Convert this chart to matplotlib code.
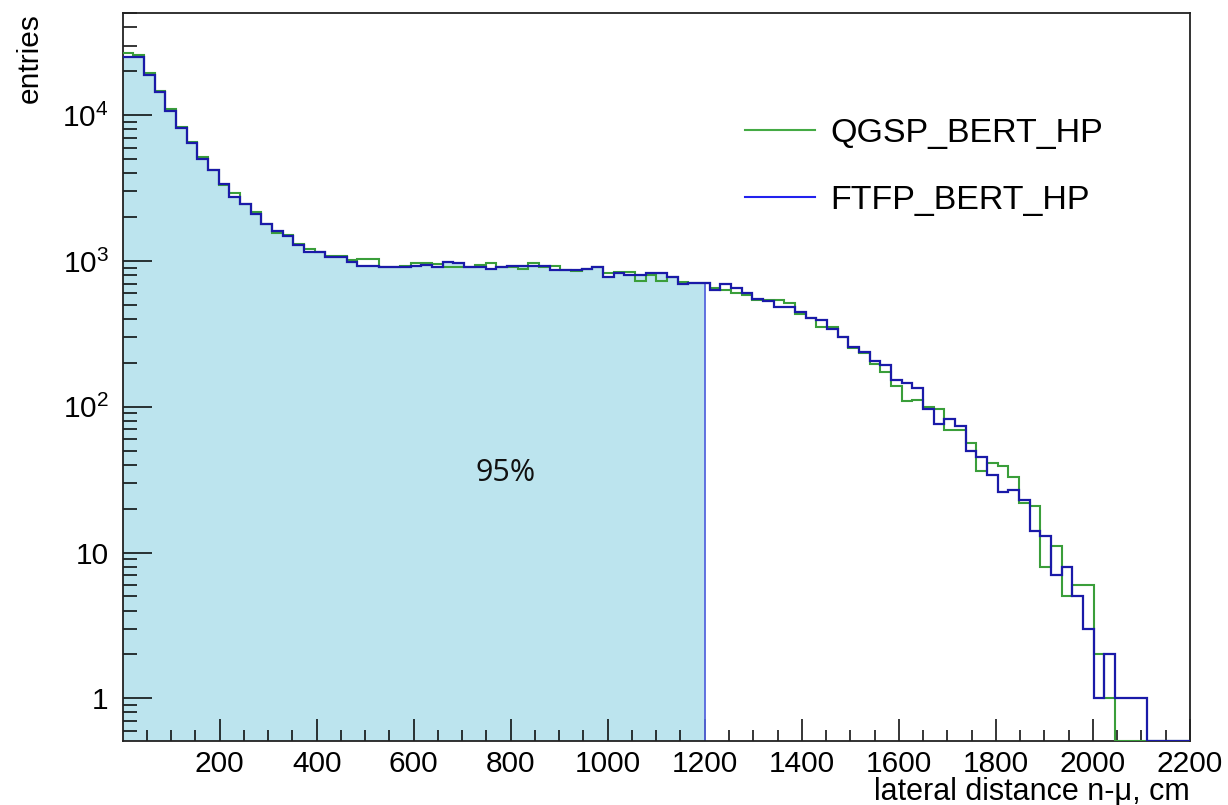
import numpy as np
import matplotlib
matplotlib.use("Agg")
import matplotlib.pyplot as plt
from matplotlib.ticker import FixedLocator, FixedFormatter, LogLocator, NullFormatter

# ---------------- data ----------------
bin_width = 22.0
n_bins = 100
x_min, x_max = 0.0, 2200.0
cut_value = 1200.0
label_95 = "95%"
label_95_pos = (790.0, 35.0)

ftfp_bert_hp = [
    24900, 24900, 18900, 14400, 10700, 8200, 6410, 5000, 4180, 3390,
    2760, 2440, 2090, 1800, 1600, 1480, 1290, 1150, 1150, 1060,
    1060, 988, 927, 927, 903, 903, 912, 925, 938, 912,
    988, 963, 905, 905, 880, 905, 925, 925, 925, 925,
    870, 870, 870, 880, 912, 779, 822, 800, 800, 830,
    830, 779, 700, 702, 702, 631, 691, 649, 600, 546,
    534, 481, 481, 449, 404, 393, 341, 302, 258, 239,
    206, 193, 152, 145, 135, 97, 76, 83, 74, 50,
    45, 34, 26, 27, 23, 14, 13, 7, 8, 5,
    3, 1, 2, 1, 1, 1, 0, 0, 0, 0,
]

qgsp_bert_hp = [
    26500, 25800, 19600, 14700, 11000, 8350, 6570, 5190, 4180, 3300,
    2910, 2440, 2150, 1800, 1560, 1510, 1310, 1210, 1150, 1080,
    1080, 1015, 1025, 1025, 912, 912, 920, 963, 963, 950,
    912, 912, 905, 938, 963, 905, 912, 880, 975, 912,
    925, 870, 850, 880, 905, 822, 844, 835, 730, 800,
    725, 779, 720, 702, 710, 655, 631, 600, 587, 541,
    541, 539, 512, 431, 404, 354, 350, 300, 252, 232,
    195, 172, 139, 109, 112, 99, 97, 69, 69, 56,
    36, 41, 39, 33, 22, 21, 8, 11, 5, 6,
    6, 2, 1, 0, 0, 0, 0, 0, 0, 0,
]

series_labels = ["QGSP_BERT_HP", "FTFP_BERT_HP"]
x_ticks = [200, 400, 600, 800, 1000, 1200, 1400, 1600, 1800, 2000, 2200]
y_ticks = [1, 10, 100, 1000, 10000]
y_tick_labels = ["1", "10", r"$\mathregular{10^{2}}$", r"$\mathregular{10^{3}}$", r"$\mathregular{10^{4}}$"]
x_label = "lateral distance n-\u03bc, cm"
y_label = "entries"

# ---------------- style ----------------
plt.rcParams["font.family"] = ["Liberation Sans", "DejaVu Sans"]
plt.rcParams["mathtext.fontset"] = "custom"
plt.rcParams["mathtext.rm"] = "Liberation Sans"
plt.rcParams["mathtext.it"] = "Liberation Sans:italic"

y_lo, y_hi = 0.512, 5.0e4
green = "#3a9e3a"
blue = "#1a1aa8"
fill_col = "#bce4ee"
cut_col = "#5566dd"

fig = plt.figure(figsize=(12.28, 8.05), dpi=100)
ax = fig.add_axes([0.0999, 0.0799, 0.8690, 0.9036])
ax.set_yscale("log")

edges = x_min + bin_width * np.arange(n_bins + 1)
ftfp = np.array(ftfp_bert_hp, dtype=float)
qgsp = np.array(qgsp_bert_hp, dtype=float)

def draw_vals(v):
    return np.where(v > 0, v, y_lo)

# filled region up to the cut
n_full = int(np.searchsorted(edges, cut_value, side="left"))
fill_edges = np.append(edges[:n_full], cut_value)
fill_vals = ftfp[:n_full]
ax.stairs(fill_vals, fill_edges, baseline=y_lo, fill=True, color=fill_col, linewidth=0, zorder=1)
ax.vlines(cut_value, y_lo, ftfp[n_full - 1], color=cut_col, linewidth=1.3, zorder=2)

ax.stairs(draw_vals(qgsp), edges, baseline=None, color=green, linewidth=1.5, label=series_labels[0], zorder=3)
ax.stairs(draw_vals(ftfp), edges, baseline=None, color=blue, linewidth=1.6, label=series_labels[1], zorder=4)

ax.set_xlim(x_min, x_max)
ax.set_ylim(y_lo, y_hi)

ax.xaxis.set_major_locator(FixedLocator(x_ticks))
ax.xaxis.set_minor_locator(FixedLocator(np.arange(50, 2200, 50)))
ax.yaxis.set_major_locator(FixedLocator(y_ticks))
ax.yaxis.set_major_formatter(FixedFormatter(y_tick_labels))
ax.yaxis.set_minor_locator(LogLocator(base=10, subs=np.arange(2, 10)))
ax.yaxis.set_minor_formatter(NullFormatter())

ax.tick_params(axis="x", which="major", direction="in", length=16, width=1.1, labelsize=21.5, pad=7, top=False)
ax.tick_params(axis="x", which="minor", direction="in", length=8, width=1.1, top=False)
ax.tick_params(axis="y", which="major", direction="in", length=21, width=1.1, labelsize=21.5, pad=10, right=False)
ax.tick_params(axis="y", which="minor", direction="in", length=10, width=1.1, right=False)
for s in ax.spines.values():
    s.set_linewidth(1.3)
    s.set_color("#222222")

fig.text(0.9689, 1 - 792 / 805, x_label, ha="right", va="center", fontsize=22)
fig.text(30 / 1228, 1 - 13.3 / 805, y_label, ha="center", va="top", rotation=90, fontsize=21.5)

ax.text(label_95_pos[0], label_95_pos[1], label_95, ha="center", va="center",
        fontsize=22, family=["Open Sans", "DejaVu Sans"], color="#111111", zorder=5)

leg = ax.legend(loc="upper left", bbox_to_anchor=(745 / 1228, 1 - 118 / 805),
                bbox_transform=fig.transFigure, frameon=False, fontsize=24.5,
                handlelength=2.05, handletextpad=0.45, labelspacing=1.05,
                borderpad=0, borderaxespad=0)
for h in leg.legend_handles:
    h.set_linewidth(1.5)
leg.legend_handles[0].set_color("#44aa44")
leg.legend_handles[1].set_color("#2222ee")

fig.savefig("out.png", dpi=100)
